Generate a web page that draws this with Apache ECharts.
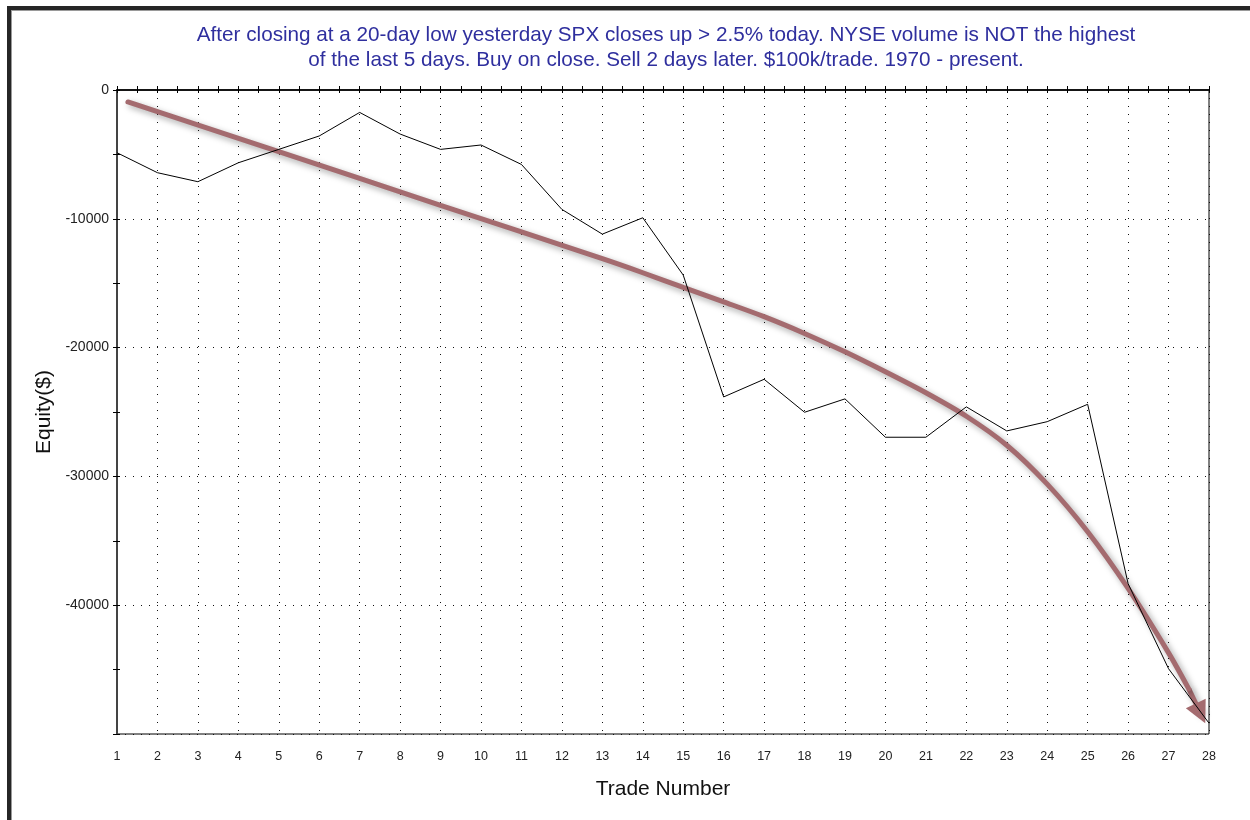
<!DOCTYPE html>
<html>
<head>
<meta charset="utf-8">
<script src="https://cdn.jsdelivr.net/npm/echarts@6/dist/echarts.min.js"></script>
<style>
  html, body { margin: 0; padding: 0; background: #fff; }
  #chart { width: 1250px; height: 820px; }
</style>
</head>
<body>
<div id="chart"></div>
<script>
// ---- data ----
const titleLines = [
  "After closing at a 20-day low yesterday SPX closes up > 2.5% today. NYSE volume is NOT the highest",
  "of the last 5 days. Buy on close. Sell 2 days later. $100k/trade. 1970 - present."
];
const trades = [1,2,3,4,5,6,7,8,9,10,11,12,13,14,15,16,17,18,19,20,21,22,23,24,25,26,27,28];
const equity = [-4870,-6420,-7120,-5650,-4610,-3570,-1740,-3420,-4610,-4270,-5780,-9270,-11190,-9920,
                -14370,-23830,-22460,-25020,-23980,-26960,-26960,-24600,-26470,-25750,-24400,-38330,-44930,-49160];
// hand-drawn trend arrow (annotation), read in data units
const arrowX = [1.27, 5, 9, 13, 14, 15, 16, 17, 18, 19, 20, 21, 22, 23, 24, 25, 26, 27, 27.5];
const arrowY = [-930, -4790, -8950, -13100, -14190, -15330, -16450, -17600, -18900, -20330, -21880, -23510,
                -25330, -27580, -30600, -34300, -38700, -43700, -46500];
const arrowHeadFrom = [27.5, -46500];
const arrowHeadTo = [27.79, -48400];
const yTicks = [0, -10000, -20000, -30000, -40000];

const chart = echarts.init(document.getElementById('chart'), null, {renderer: 'canvas'});
const FONT = 'Liberation Sans, Arial, sans-serif';
const arrowColor = '#a46b6f';

const option = {
  animation: false,
  backgroundColor: '#fff',
  title: {
    text: titleLines.join('\n'),
    left: 661, top: 18, textAlign: 'center',
    textStyle: { color: '#2f2f9e', fontFamily: FONT, fontSize: 20.7, fontWeight: 'normal', lineHeight: 25 }
  },
  grid: { left: 117, right: 41, top: 90, bottom: 86, show: true, borderColor: '#000', borderWidth: 1, backgroundColor: '#fff' },
  xAxis: [
    {
      type: 'value', min: 1, max: 28, interval: 1, position: 'bottom',
      name: 'Trade Number', nameLocation: 'middle', nameGap: 45,
      nameTextStyle: { fontFamily: FONT, fontSize: 21, color: '#111' },
      axisLine: { show: true, lineStyle: { color: '#555', width: 2 } },
      axisTick: { show: false },
      axisLabel: { margin: 16, fontFamily: FONT, fontSize: 12.5, color: '#222' },
      splitLine: { show: true, lineStyle: { color: '#111', type: [1, 7], width: 1 } }
    },
    {
      type: 'value', min: 1, max: 28, interval: 0.5, position: 'top',
      axisLine: { show: true, lineStyle: { color: '#000', width: 1.5 } },
      axisTick: { show: true, inside: false, length: 4, lineStyle: { color: '#000', width: 1 } },
      axisLabel: { show: false }, splitLine: { show: false }
    },
    {
      type: 'value', min: 1, max: 28, interval: 0.5, position: 'top',
      axisLine: { show: false },
      axisTick: { show: true, inside: true, length: 3, lineStyle: { color: '#000', width: 1 } },
      axisLabel: { show: false }, splitLine: { show: false }
    }
  ],
  yAxis: [
    {
      type: 'value', min: -50000, max: 0, interval: 10000, position: 'left',
      name: 'Equity($)', nameLocation: 'middle', nameGap: 60, nameRotate: 90,
      nameTextStyle: { fontFamily: FONT, fontSize: 21, color: '#111' },
      axisLine: { show: true, lineStyle: { color: '#444', width: 2 } },
      axisTick: { show: true, length: 4, lineStyle: { color: '#000' } },
      minorTick: { show: true, splitNumber: 2, length: 4, lineStyle: { color: '#000' } },
      axisLabel: {
        margin: 8, fontFamily: FONT, fontSize: 14, color: '#222',
        formatter: v => (yTicks.indexOf(v) >= 0 ? String(v) : '')
      },
      splitLine: { show: true, lineStyle: { color: '#111', type: [1, 7], width: 1 } }
    },
    {
      type: 'value', min: -50000, max: 0, interval: 10000, position: 'left',
      axisLine: { show: false },
      axisTick: { show: true, inside: true, length: 3, lineStyle: { color: '#000' } },
      minorTick: { show: true, splitNumber: 2, length: 3, lineStyle: { color: '#000' } },
      axisLabel: { show: false }, splitLine: { show: false }
    }
  ],
  graphic: [
    { type: 'rect', shape: { x: 7, y: 6, width: 4, height: 814 }, style: { fill: '#262626' }, z: 100 },
    { type: 'rect', shape: { x: 7, y: 6, width: 1243, height: 4 }, style: { fill: '#262626' }, z: 100 },
    { type: 'rect', shape: { x: 11, y: 10, width: 1, height: 810 }, style: { fill: '#9a9a9a' }, z: 100 },
    { type: 'rect', shape: { x: 11, y: 10, width: 1239, height: 1 }, style: { fill: '#9a9a9a' }, z: 100 }
  ],
  series: [
    {
      type: 'line', name: 'arrow', xAxisIndex: 0, yAxisIndex: 0,
      data: arrowX.map((x, i) => [x, arrowY[i]]),
      smooth: 0.3, showSymbol: false, symbol: 'none',
      lineStyle: { color: arrowColor, width: 5, cap: 'round',
        shadowBlur: 6, shadowColor: 'rgba(0,0,0,0.35)', shadowOffsetX: 3, shadowOffsetY: 3 },
      z: 3
    },
    {
      type: 'lines', coordinateSystem: 'cartesian2d', xAxisIndex: 0, yAxisIndex: 0,
      symbol: ['none', 'triangle'], symbolSize: [0, 22],
      data: [{ coords: [arrowHeadFrom, arrowHeadTo] }],
      lineStyle: { color: arrowColor, width: 5, opacity: 1, curveness: 0,
        shadowBlur: 6, shadowColor: 'rgba(0,0,0,0.35)', shadowOffsetX: 3, shadowOffsetY: 3 },
      z: 3
    },
    {
      type: 'line', name: 'Equity', xAxisIndex: 0, yAxisIndex: 0,
      data: trades.map((t, i) => [t, equity[i]]),
      showSymbol: false, symbol: 'none',
      lineStyle: { color: '#000', width: 1 },
      z: 5
    }
  ]
};
chart.setOption(option);
</script>
</body>
</html>
